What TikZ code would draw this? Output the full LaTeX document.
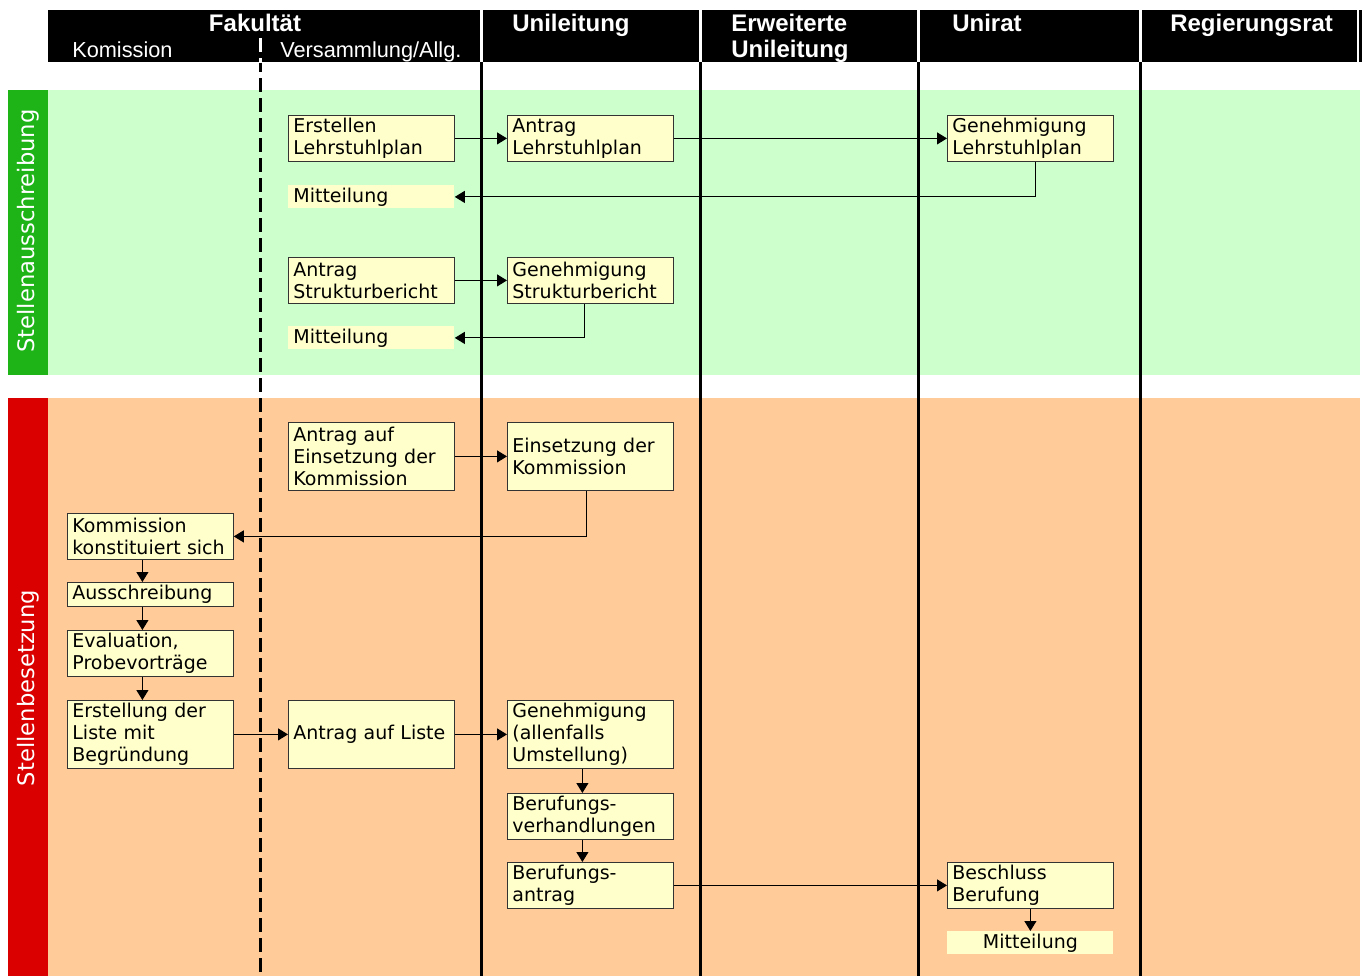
\documentclass[tikz,border=0pt]{standalone}
\usepackage{fontspec}
\setmainfont{DejaVu Sans}
\newfontfamily\headfont{Liberation Sans}
\usetikzlibrary{arrows.meta}
\definecolor{laneGreen}{RGB}{204,255,204}
\definecolor{tagGreen}{RGB}{30,180,24}
\definecolor{laneOrange}{RGB}{255,204,153}
\definecolor{tagRed}{RGB}{218,0,0}
\definecolor{boxYellow}{RGB}{255,255,204}

\begin{document}
\begin{tikzpicture}[x=0.75pt,y=-0.75pt,
    box/.style={draw=black!80,line width=0.6pt,fill=boxYellow,anchor=north west,
        text width=117pt,inner xsep=3.75pt,inner ysep=0pt,align=left,
        minimum height=34.5pt,font=\fontsize{14.25}{16.5}\selectfont},
    tall/.style={box,minimum height=51pt},
    small/.style={box,minimum height=18pt},
    note/.style={box,draw=none,minimum height=17.25pt},
    hd/.style={text=white,inner sep=0pt,font=\headfont\fontsize{16.3}{19}\selectfont},
    hdb/.style={hd,font=\headfont\bfseries\fontsize{18}{19}\selectfont},
    tag/.style={text=white,rotate=90,font=\fontsize{17}{20}\selectfont},
    arr/.style={-{Triangle[length=7.5pt,width=9pt]},line width=0.75pt},
    lane/.style={line width=2.25pt},
    sep/.style={lane,dash pattern=on 10.5pt off 4.5pt}]
\useasboundingbox (0,0) rectangle (1367,976);

% bands
\fill[laneGreen] (48,90) rectangle (1360,375);
\fill[tagGreen] (8,90) rectangle (48,375);
\fill[laneOrange] (48,398) rectangle (1360,976);
\fill[tagRed] (8,398) rectangle (48,976);
\node[tag] (ausschr) at (28,231) {Stellenausschreibung};
\node[tag] (besetz) at (28,688) {Stellenbesetzung};

% header and lanes
\fill (48,10) rectangle (1362,62);
\foreach \x in {481,700,918,1140} {
  \draw[lane,white] (\x,10) -- (\x,62);
  \draw[lane] (\x,62) -- (\x,976);
}
\draw[white,line width=1.5pt] (1357.5,10) -- (1357.5,62);
\draw[sep] (260,38) -- (260,976);
\begin{scope}
  \clip (48,10) rectangle (1362,62);
  \draw[sep,white] (260,38) -- (260,976);
\end{scope}

\node[hdb,anchor=base] (fak) at (255,31) {Fakultät};
\node[hd,anchor=base west] (kom) at (72,57) {Komission};
\node[hd,anchor=base west] (vers) at (280,57) {Versammlung/Allg.};
\node[hdb,anchor=base west] (unil) at (512,31) {Unileitung};
\node[hdb,anchor=base west] (erw) at (731,31) {Erweiterte};
\node[hdb,anchor=base west] (erw2) at (731,57) {Unileitung};
\node[hdb,anchor=base west] (unirat) at (952,31) {Unirat};
\node[hdb,anchor=base west] (regr) at (1170,31) {Regierungsrat};

% Stellenausschreibung
\node[box] (erstLP) at (288,115) {Erstellen\\Lehrstuhlplan};
\node[box] (antrLP) at (507,115) {Antrag\\Lehrstuhlplan};
\node[box] (genLP) at (947,115) {Genehmigung\\Lehrstuhlplan};
\node[note] (mittLP) at (288,185) {Mitteilung};
\node[box] (antrSB) at (288,257) {Antrag\\Strukturbericht};
\node[box] (genSB) at (507,257) {Genehmigung\\Strukturbericht};
\node[note] (mittSB) at (288,326) {Mitteilung};

% Stellenbesetzung
\node[tall] (antrEK) at (288,422) {Antrag auf\\Einsetzung der\\Kommission};
\node[tall] (einsK) at (507,422) {Einsetzung der\\Kommission};
\node[box] (konst) at (67,513) {Kommission\\konstituiert sich};
\node[small] (aussch) at (67,582) {Ausschreibung};
\node[box] (eval) at (67,630) {Evaluation,\\Probevorträge};
\node[tall] (liste) at (67,700) {Erstellung der\\Liste mit\\Begründung};
\node[tall] (antrL) at (288,700) {Antrag auf Liste};
\node[tall] (genL) at (507,700) {Genehmigung\\(allenfalls\\Umstellung)};
\node[box] (verh) at (507,793) {Berufungs-\\verhandlungen};
\node[box] (berA) at (507,862) {Berufungs-\\antrag};
\node[box] (beschl) at (947,862) {Beschluss\\Berufung};
\node[note,align=center] (mittB) at (947,931) {Mitteilung};

\draw[arr] (erstLP) -- (antrLP);
\draw[arr] (antrLP) -- (genLP);
\draw[arr] ([xshift=3.75pt]genLP.south) |- (mittLP);
\draw[arr] (antrSB) -- (genSB);
\draw[arr] ([xshift=-4.5pt]genSB.south) |- (mittSB);
\draw[arr] (antrEK) -- (einsK);
\draw[arr] ([xshift=-3pt]einsK.south) |- (konst);
\draw[arr] ([xshift=-6pt]konst.south) -- ([xshift=-6pt]aussch.north);
\draw[arr] ([xshift=-6pt]aussch.south) -- ([xshift=-6pt]eval.north);
\draw[arr] ([xshift=-6pt]eval.south) -- ([xshift=-6pt]liste.north);
\draw[arr] (liste) -- (antrL);
\draw[arr] (antrL) -- (genL);
\draw[arr] ([xshift=-6pt]genL.south) -- ([xshift=-6pt]verh.north);
\draw[arr] ([xshift=-6pt]verh.south) -- ([xshift=-6pt]berA.north);
\draw[arr] (berA) -- (beschl);
\draw[arr] (beschl) -- (mittB);
\end{tikzpicture}
\end{document}
